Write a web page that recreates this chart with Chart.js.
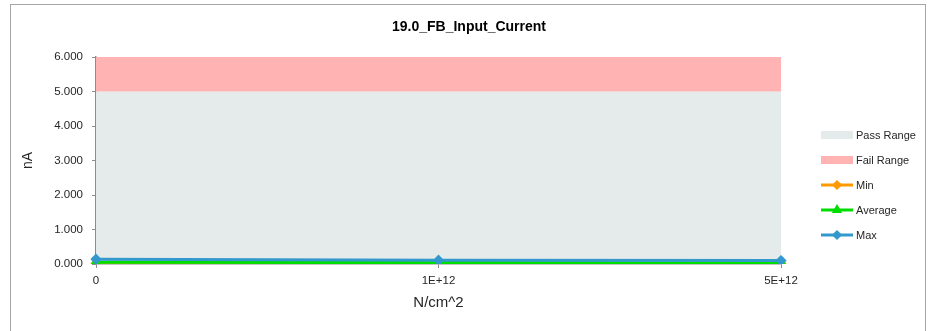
<!DOCTYPE html>
<html>
<head>
<meta charset="utf-8">
<style>
*{padding:0;margin:0;box-sizing:border-box}
body{background:#ffffff;width:930px;height:331px;overflow:hidden;position:relative}
.frame{position:absolute;left:10px;top:4px;width:916px;height:340px;border:1.5px solid #a6a6a6}
.wrapper{position:absolute;left:0;top:0;width:930px;height:331px}
</style>
</head>
<body>
<div class="frame"></div>
<div class="wrapper"><canvas id="myChart" width="930" height="331"></canvas></div>
<script src="https://cdn.jsdelivr.net/npm/chart.js"></script>
<script>
const chartTitle = '19.0_FB_Input_Current';
const categories = ['0', '1E+12', '5E+12'];
const passRange = [5, 5, 5];
const failRange = [6, 6, 6];
const minValues = [0.02, 0.02, 0.02];
const avgValues = [0.05, 0.04, 0.03];
const maxValues = [0.14, 0.11, 0.10];
const yTicks = [0, 1, 2, 3, 4, 5, 6];

const fontFamily = "'Liberation Sans', Arial, sans-serif";
const axisColor = '#8c8c8c';

// title centred on the whole frame, legend on the right, Excel style
const titleLegendPlugin = {
  id: 'titleLegend',
  afterDraw(chart) {
    const ctx = chart.ctx;
    ctx.save();
    ctx.font = 'bold 14px ' + fontFamily;
    ctx.fillStyle = '#000000';
    ctx.textAlign = 'center';
    ctx.textBaseline = 'middle';
    ctx.fillText(chartTitle, 469, 27);

    const x0 = 821, w = 32;
    let y = 135;
    ctx.textAlign = 'left';
    ctx.font = '11px ' + fontFamily;
    chart.data.datasets.forEach(ds => {
      if (ds.isRange) {
        ctx.fillStyle = ds.backgroundColor;
        ctx.fillRect(x0, y - 4, w, 8);
      } else {
        ctx.strokeStyle = ds.borderColor;
        ctx.lineWidth = 3;
        ctx.beginPath();
        ctx.moveTo(x0, y);
        ctx.lineTo(x0 + w, y);
        ctx.stroke();
        ctx.fillStyle = ds.borderColor;
        Chart.helpers.drawPoint(ctx, {
          pointStyle: ds.pointStyle,
          radius: 3,
          borderWidth: 1,
        }, x0 + w / 2, y);
      }
      ctx.fillStyle = '#262626';
      ctx.fillText(ds.label, x0 + w + 3, y + 1);
      y += 25;
    });
    ctx.restore();
  },
};

const ctx = document.getElementById('myChart').getContext('2d');
Chart.defaults.font.family = fontFamily;
Chart.defaults.color = '#262626';

const lineSet = (label, data, color, style, order) => ({
  label: label,
  data: data,
  borderColor: color,
  backgroundColor: color,
  pointBackgroundColor: color,
  pointBorderColor: color,
  pointStyle: style,
  pointRadius: 3.5,
  borderWidth: 3,
  tension: 0,
  fill: false,
  order: order,
});

const myChart = new Chart(ctx, {
  type: 'line',
  data: {
    labels: categories,
    datasets: [
      {
        label: 'Pass Range',
        isRange: true,
        data: passRange,
        borderWidth: 0,
        pointRadius: 0,
        backgroundColor: '#e5ebea',
        borderColor: '#e5ebea',
        fill: 'origin',
        order: 4,
      },
      {
        label: 'Fail Range',
        isRange: true,
        data: failRange,
        borderWidth: 0,
        pointRadius: 0,
        backgroundColor: '#ffb3b3',
        borderColor: '#ffb3b3',
        fill: '-1',
        order: 3,
      },
      lineSet('Min', minValues, '#ff9900', 'rectRot', 2),
      lineSet('Average', avgValues, '#00dd00', 'triangle', 1),
      lineSet('Max', maxValues, '#3399cc', 'rectRot', 0),
    ],
  },
  options: {
    responsive: false,
    animation: false,
    events: [],
    layout: {
      padding: { left: 0, right: 149, top: 57, bottom: 0 },
    },
    plugins: {
      legend: { display: false },
      tooltip: { enabled: false },
      title: { display: false },
    },
    scales: {
      x: {
        type: 'category',
        offset: false,
        grid: {
          display: true,
          drawOnChartArea: false,
          color: axisColor,
          tickLength: 4,
        },
        border: { color: axisColor, width: 1.5 },
        ticks: {
          font: { size: 11.5 },
          color: '#262626',
          padding: 6,
          maxRotation: 0,
        },
        title: {
          display: true,
          text: 'N/cm^2',
          font: { size: 15 },
          color: '#262626',
          padding: { top: 0, bottom: 19 },
        },
        afterFit: (s) => { s.height = 67; },
      },
      y: {
        min: 0,
        max: 6,
        afterBuildTicks: (s) => { s.ticks = yTicks.map(v => ({ value: v })); },
        grid: {
          display: true,
          drawOnChartArea: false,
          color: axisColor,
          tickLength: 4,
        },
        border: { color: axisColor, width: 1.5 },
        ticks: {
          font: { size: 11.5 },
          color: '#262626',
          padding: 9,
          callback: (value) => Number(value).toFixed(3),
        },
        title: {
          display: true,
          text: 'nA',
          font: { size: 14 },
          color: '#262626',
          padding: { top: 20, bottom: 0 },
        },
        afterFit: (s) => { s.width = 96; },
      },
    },
  },
  plugins: [titleLegendPlugin],
});
</script>
</body>
</html>
